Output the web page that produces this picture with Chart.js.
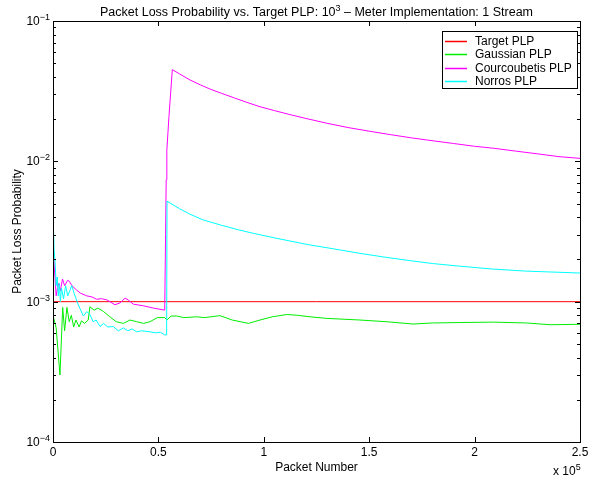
<!DOCTYPE html>
<html>
<head>
<meta charset="utf-8">
<script src="https://cdn.jsdelivr.net/npm/chart.js@4.4.1/dist/chart.umd.min.js"></script>
<style>
  html, body { margin: 0; padding: 0; background: #fff; }
  #plp { display: block; }
</style>
</head>
<body>
<canvas id="plp" width="603" height="481"></canvas>
<script>
// packet number -> loss probability
const target = [[0, 1e-3], [250000, 1e-3]];

const gaussian = [
  [0, 8.0e-4], [1500, 6.5e-4], [3300, 3.0e-4], [4600, 9.1e-4], [5500, 6.2e-4],
  [6600, 9.1e-4], [7700, 7.2e-4], [8700, 8.0e-4], [9800, 6.6e-4], [10900, 7.4e-4],
  [12400, 6.6e-4], [13500, 7.3e-4], [15000, 7.0e-4], [16700, 7.4e-4], [17500, 9.2e-4],
  [19500, 8.7e-4], [21300, 9.0e-4], [24000, 8.5e-4], [27000, 7.8e-4], [30000, 7.2e-4],
  [33400, 7.0e-4], [36500, 7.4e-4], [39700, 7.2e-4], [43000, 7.0e-4], [46000, 7.2e-4],
  [49500, 7.7e-4], [53000, 7.7e-4], [54000, 7.4e-4], [56000, 7.9e-4], [58700, 7.9e-4],
  [62000, 7.7e-4], [68200, 7.8e-4], [72000, 7.7e-4], [79200, 7.95e-4], [85000, 7.4e-4],
  [92700, 7.0e-4], [98200, 7.4e-4], [104000, 7.8e-4], [110900, 8.1e-4], [116000, 8.0e-4],
  [121900, 7.8e-4], [130000, 7.6e-4], [145600, 7.4e-4], [158000, 7.2e-4], [170900, 6.93e-4],
  [180000, 7.05e-4], [193000, 7.1e-4], [208900, 7.15e-4], [224700, 7.05e-4], [235800, 6.85e-4],
  [250000, 6.9e-4]
];

const courcoubetis = [
  [0, 2.4e-3], [800, 1.6e-3], [1500, 1.1e-3], [2500, 1.35e-3], [3500, 1.2e-3],
  [4500, 1.45e-3], [5500, 1.3e-3], [7000, 1.42e-3], [7700, 1.4e-3], [9000, 1.3e-3],
  [11200, 1.21e-3], [13000, 1.15e-3], [16000, 1.1e-3], [18500, 1.08e-3], [20700, 1.04e-3],
  [23000, 1.05e-3], [25500, 1.03e-3], [27000, 1.0e-3], [29400, 9.5e-4], [31800, 9.8e-4],
  [34200, 1.06e-3], [35600, 1.03e-3], [38100, 9.6e-4], [42800, 9.35e-4], [47600, 9.0e-4],
  [53000, 8.7e-4], [53400, 3.0e-3], [53700, 7.4e-3], [54000, 1.2e-2], [55000, 2.08e-2],
  [56600, 4.5e-2], [60000, 4.2e-2], [65000, 3.8e-2], [70000, 3.5e-2], [75000, 3.25e-2],
  [80000, 3.05e-2], [86000, 2.83e-2], [92000, 2.63e-2], [98200, 2.45e-2], [105000, 2.3e-2],
  [112000, 2.16e-2], [120000, 2.02e-2], [129800, 1.87e-2], [140000, 1.74e-2], [150000, 1.64e-2],
  [160000, 1.55e-2], [170000, 1.47e-2], [177300, 1.42e-2], [190000, 1.34e-2], [200000, 1.28e-2],
  [208900, 1.24e-2], [220000, 1.18e-2], [230000, 1.13e-2], [240000, 1.08e-2], [250000, 1.05e-2]
];

const norros = [
  [0, 4.3e-3], [500, 2.4e-3], [1000, 1.9e-3], [1500, 1.3e-3], [2000, 1.5e-3],
  [2500, 1.1e-3], [3000, 1.35e-3], [3500, 1.0e-3], [4000, 1.25e-3], [5000, 1.05e-3],
  [6000, 1.3e-3], [7000, 1.1e-3], [8000, 1.2e-3], [8900, 1.3e-3], [10000, 1.15e-3],
  [12000, 9.5e-4], [14400, 7.9e-4], [16000, 8.5e-4], [17500, 8.1e-4], [19000, 7.2e-4],
  [20500, 7.4e-4], [22300, 6.65e-4], [24000, 7.0e-4], [26000, 6.6e-4], [28600, 6.65e-4],
  [31000, 6.2e-4], [33400, 6.5e-4], [35500, 6.2e-4], [37500, 6.4e-4], [39700, 6.1e-4],
  [42000, 6.2e-4], [44000, 6.15e-4], [46000, 6.1e-4], [48500, 6.0e-4], [51000, 6.05e-4],
  [53000, 5.8e-4], [53900, 5.8e-4], [54100, 5.2e-3], [60000, 4.6e-3], [65000, 4.2e-3],
  [71300, 3.82e-3], [80000, 3.5e-3], [88000, 3.25e-3], [95000, 3.07e-3], [105000, 2.85e-3],
  [120350, 2.56e-3], [133000, 2.38e-3], [145600, 2.21e-3], [157000, 2.08e-3], [169400, 1.96e-3],
  [180000, 1.87e-3], [193000, 1.79e-3], [208000, 1.71e-3], [224700, 1.65e-3], [250000, 1.6e-3]
];

const seriesNames = ["Target PLP", "Gaussian PLP", "Courcoubetis PLP", "Norros PLP"];
const seriesColors = ["#ff0000", "#00ee00", "#ff00ff", "#00ffff"];
const xTicks = [0, 50000, 100000, 150000, 200000, 250000];
const yDecades = [-4, -3, -2, -1];

const FONT = '"Liberation Sans", Arial, Helvetica, sans-serif';
const BASE = 12, SUP = 9;

function toPoints(arr) {
  return arr.map(([x, y]) => ({ x: x, y: y }));
}

// text with superscript parts, parts: [[text, isSup], ...]
function supText(ctx, parts, x, y, align, size) {
  const b = size || BASE;
  let total = 0;
  const widths = parts.map(([t, sup]) => {
    ctx.font = (sup ? SUP : b) + "px " + FONT;
    const w = ctx.measureText(t).width;
    total += w;
    return w;
  });
  let cx = align === "right" ? x - total : align === "center" ? x - total / 2 : x;
  ctx.textAlign = "left";
  ctx.textBaseline = "alphabetic";
  parts.forEach(([t, sup], i) => {
    ctx.font = (sup ? SUP : b) + "px " + FONT;
    ctx.fillText(t, cx, sup ? y - 5 : y);
    cx += widths[i];
  });
}

const axesPlugin = {
  id: "matlabAxes",
  afterDraw(chart) {
    const ctx = chart.ctx;
    const { left, right, top, bottom } = chart.chartArea;
    const xs = chart.scales.x, ys = chart.scales.y;
    ctx.save();
    ctx.strokeStyle = "#000";
    ctx.fillStyle = "#000";
    ctx.lineWidth = 1;

    // frame
    ctx.strokeRect(Math.round(left) + 0.5, Math.round(top) + 0.5,
      Math.round(right - left), Math.round(bottom - top));

    // ticks, all pointing inward
    ctx.beginPath();
    xTicks.forEach(v => {
      const px = Math.round(xs.getPixelForValue(v)) + 0.5;
      ctx.moveTo(px, bottom); ctx.lineTo(px, bottom - 5);
      ctx.moveTo(px, top); ctx.lineTo(px, top + 5);
    });
    yDecades.forEach(e => {
      const py = Math.round(ys.getPixelForValue(Math.pow(10, e))) + 0.5;
      ctx.moveTo(left, py); ctx.lineTo(left + 5, py);
      ctx.moveTo(right, py); ctx.lineTo(right - 5, py);
      if (e < -1) {
        for (let m = 2; m <= 9; m++) {
          const pm = Math.round(ys.getPixelForValue(m * Math.pow(10, e))) + 0.5;
          ctx.moveTo(left, pm); ctx.lineTo(left + 3, pm);
          ctx.moveTo(right, pm); ctx.lineTo(right - 3, pm);
        }
      }
    });
    ctx.stroke();

    ctx.font = BASE + "px " + FONT;
    ctx.textAlign = "center";
    ctx.textBaseline = "top";
    xTicks.forEach(v => {
      ctx.fillText(String(v / 1e5), xs.getPixelForValue(v), bottom + 5);
    });

    yDecades.forEach(e => {
      const py = ys.getPixelForValue(Math.pow(10, e));
      supText(ctx, [["10", false], ["\u2212" + (-e), true]], left - 3, py + 4, "right");
    });

    // exponent note under x axis
    supText(ctx, [["x 10", false], ["5", true]], right - 27, bottom + 33, "left");

    // axis titles
    ctx.font = BASE + "px " + FONT;
    ctx.textAlign = "center";
    ctx.textBaseline = "alphabetic";
    ctx.fillText("Packet Number", (left + right) / 2, bottom + 29);
    ctx.save();
    ctx.translate(21, (top + bottom) / 2);
    ctx.rotate(-Math.PI / 2);
    ctx.fillText("Packet Loss Probability", 0, 0);
    ctx.restore();

    // title
    supText(ctx, [["Packet Loss Probability vs. Target PLP: 10", false], ["3", true],
      [" \u2013 Meter Implementation: 1 Stream", false]], (left + right) / 2, 16, "center", 12.5);

    // legend
    const lx = 442, ly = 31, lw = 135, lh = 57;
    ctx.fillStyle = "#fff";
    ctx.fillRect(lx, ly, lw, lh);
    ctx.strokeStyle = "#000";
    ctx.lineWidth = 1;
    ctx.strokeRect(lx + 0.5, ly + 0.5, lw, lh);
    seriesNames.forEach((name, i) => {
      const yy = Math.round(ly + 10 + i * 13.3) + 0.5;
      ctx.beginPath();
      ctx.strokeStyle = seriesColors[i];
      ctx.lineWidth = 1.5;
      ctx.moveTo(lx + 3, yy);
      ctx.lineTo(lx + 25, yy);
      ctx.stroke();
      ctx.fillStyle = "#000";
      ctx.font = BASE + "px " + FONT;
      ctx.textAlign = "left";
      ctx.textBaseline = "middle";
      ctx.fillText(name, lx + 33, yy + 0.5);
    });
    ctx.restore();
  }
};

const allSeries = [target, gaussian, courcoubetis, norros];

new Chart(document.getElementById("plp"), {
  type: "line",
  data: {
    datasets: allSeries.map((s, i) => ({
      label: seriesNames[i],
      data: toPoints(s),
      borderColor: seriesColors[i],
      borderWidth: 1,
      pointRadius: 0,
      tension: 0,
      fill: false,
      order: 4 - i
    }))
  },
  options: {
    responsive: false,
    animation: false,
    devicePixelRatio: 1,
    layout: { padding: { top: 21, right: 23, left: 0, bottom: 0 } },
    plugins: { legend: { display: false }, tooltip: { enabled: false }, title: { display: false } },
    scales: {
      x: {
        type: "linear", min: 0, max: 250000,
        ticks: { display: false }, grid: { display: false }, border: { display: false },
        afterFit: s => { s.height = 39; }
      },
      y: {
        type: "logarithmic", min: 1e-4, max: 1e-1,
        ticks: { display: false }, grid: { display: false }, border: { display: false },
        afterFit: s => { s.width = 53; }
      }
    }
  },
  plugins: [axesPlugin]
});
</script>
</body>
</html>
